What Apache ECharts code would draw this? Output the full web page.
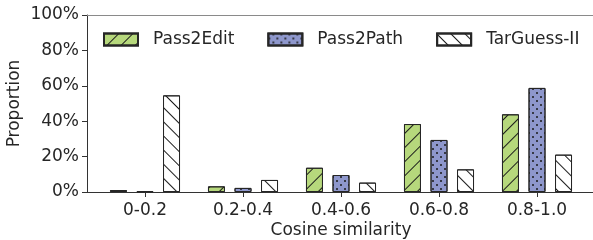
<!DOCTYPE html>
<html>
<head>
<meta charset="utf-8">
<script src="https://cdn.jsdelivr.net/npm/echarts@6/dist/echarts.min.js"></script>
<style>
html, body { margin: 0; padding: 0; background: #fff; }
#chart { width: 593px; height: 240px; }
</style>
</head>
<body>
<div id="chart"></div>
<script>
// cosine similarity buckets
const categories = ['0-0.2', '0.2-0.4', '0.4-0.6', '0.6-0.8', '0.8-1.0']
const pass2edit = [1.1, 3.2, 13.7, 38.4, 43.9]
const pass2path = [0.5, 2.3, 9.6, 29.4, 58.8]
const targuess = [54.6, 6.8, 5.3, 12.8, 21.1]
const yTicks = [0, 20, 40, 60, 80, 100]

const FONT = 'DejaVu Sans'
const TEXT = '#262626'
const EDGE = '#262626'

let hatch = (rot) => ({
  symbol: 'rect',
  symbolSize: 1,
  color: '#1a1a1a',
  dashArrayX: [1, 0],
  dashArrayY: [1, 9],
  rotation: rot
})

let dots = {
  symbol: 'circle',
  symbolSize: 1,
  color: '#1a1a1a',
  dashArrayX: [[2, 6], [0, 4, 2, 2]],
  dashArrayY: [2, 2],
  rotation: 0
}

let seriesDefs = [
  {name: 'Pass2Edit', data: pass2edit, color: '#b6d87c', decal: hatch(-Math.PI / 4)},
  {name: 'Pass2Path', data: pass2path, color: '#8e97cc', decal: dots},
  {name: 'TarGuess-II', data: targuess, color: '#ffffff', decal: hatch(Math.PI / 4)}
]

let chart = echarts.init(document.getElementById('chart'))
chart.setOption({
  animation: false,
  aria: {enabled: true, decal: {show: true}},
  textStyle: {fontFamily: FONT, color: TEXT},
  legend: {
    left: 103,
    top: 31,
    padding: 0,
    icon: 'rect',
    itemWidth: 34,
    itemHeight: 12,
    itemGap: 33,
    textStyle: {fontSize: 17, color: TEXT, fontFamily: FONT, padding: [0, 0, 0, 10]},
    data: seriesDefs.map(s => s.name)
  },
  grid: [
    // bars
    {left: 96, top: 15, right: 7, bottom: 48, outerBoundsMode: 'none'},
    // axes frame (spines extend beyond the bar band)
    {left: 87, top: 15, right: -3, bottom: 48, outerBoundsMode: 'none'}
  ],
  xAxis: [{
    type: 'category',
    gridIndex: 0,
    data: categories,
    name: 'Cosine similarity',
    nameLocation: 'middle',
    nameGap: 30,
    nameMoveOverlap: false,
    nameTextStyle: {fontSize: 17, color: TEXT, fontFamily: FONT},
    axisLine: {show: false},
    axisTick: {show: true, alignWithLabel: true, length: 5, lineStyle: {color: '#333'}},
    axisLabel: {fontSize: 17, color: TEXT, margin: 10, interval: 0},
    splitLine: {show: false}
  }, {
    type: 'value',
    gridIndex: 1,
    min: 0,
    max: 1,
    axisLine: {show: true, lineStyle: {color: '#333', width: 1}},
    axisTick: {show: false},
    axisLabel: {show: false},
    splitLine: {show: false}
  }, {
    type: 'value',
    gridIndex: 1,
    position: 'top',
    min: 0,
    max: 1,
    axisLine: {show: true, lineStyle: {color: '#8a8a8a', width: 1}},
    axisTick: {show: false},
    axisLabel: {show: false},
    splitLine: {show: false}
  }],
  yAxis: [{
    type: 'value',
    gridIndex: 0,
    min: yTicks[0],
    max: yTicks[yTicks.length - 1],
    show: false
  }, {
    type: 'value',
    gridIndex: 1,
    min: yTicks[0],
    max: yTicks[yTicks.length - 1],
    interval: 20,
    name: 'Proportion',
    nameLocation: 'middle',
    nameGap: 64,
    nameMoveOverlap: false,
    nameTextStyle: {fontSize: 17, color: TEXT, fontFamily: FONT},
    axisLine: {show: true, lineStyle: {color: '#333', width: 1}},
    axisTick: {show: true, length: 5, lineStyle: {color: '#333'}},
    axisLabel: {fontSize: 17, color: TEXT, margin: 8, formatter: '{value}%'},
    splitLine: {show: false}
  }],
  series: seriesDefs.map(s => ({
    type: 'bar',
    name: s.name,
    xAxisIndex: 0,
    yAxisIndex: 0,
    data: s.data,
    barWidth: 17,
    barGap: '56%',
    itemStyle: {color: s.color, borderColor: EDGE, borderWidth: 1, decal: s.decal}
  }))
})
</script>
</body>
</html>
